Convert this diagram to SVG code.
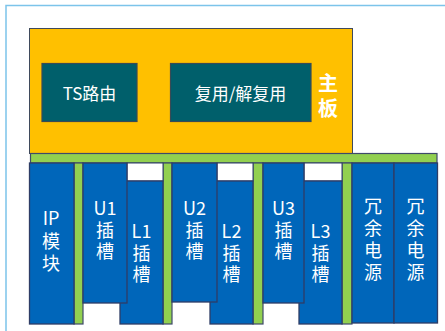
<svg xmlns="http://www.w3.org/2000/svg" width="445" height="331" viewBox="0 0 445 331">
<style>
.frame{fill:none;stroke:#7CC4EA;stroke-width:1.5}
.main{fill:#FFC000;stroke:#3F4A5C;stroke-width:1}
.teal{fill:#005F6B;stroke:#3A4A55;stroke-width:1.2}
.bus{fill:#92D050;stroke:#3F4A6A;stroke-width:1.2}
.blue{fill:#0066BA;stroke:#2E3D66;stroke-width:1.3}
.gap{fill:#FFFFFF;stroke:#2E3D66;stroke-width:1}
.t{font-family:"Noto Sans CJK SC","Noto Sans",sans-serif;fill:#FFFFFF;text-anchor:middle;dominant-baseline:central}
.s17{font-size:17px}
.s18{font-size:18px}
.b{font-weight:bold;font-size:20px}
</style>
<rect width="445" height="331" fill="#FFFFFF"/>
<path class="frame" d="M6,331 V5.5 H445"/>
<g id="mainboard">
<rect class="main" x="29.5" y="28.5" width="323" height="125"/>
<text class="t b" x="328" y="82">主</text>
<text class="t b" x="328" y="107">板</text>
</g>
<g id="ts">
<rect class="teal" x="42" y="63.5" width="95" height="58"/>
<text class="t s17" x="89.5" y="92">TS路由</text>
</g>
<g id="mux">
<rect class="teal" x="170.5" y="63.5" width="140.5" height="58"/>
<text class="t s17" x="240.5" y="92">复用/解复用</text>
</g>
<g id="connectors">
<rect class="bus" x="30.5" y="153.5" width="406.5" height="9.5"/>
<rect class="bus" x="74" y="163" width="9" height="161"/>
<rect class="bus" x="163" y="163" width="9" height="161"/>
<rect class="bus" x="253" y="163" width="10" height="161"/>
<rect class="bus" x="342" y="163" width="10" height="161"/>
</g>
<g id="ip">
<rect class="blue" x="29.5" y="163" width="44.5" height="161"/>
<text class="t s18" x="51" y="217">IP</text>
<text class="t s18" x="51" y="240">模</text>
<text class="t s18" x="51" y="262">块</text>
</g>
<g id="l1">
<rect class="gap" x="127" y="163" width="36" height="18"/>
<rect class="blue" x="120" y="181" width="43" height="143"/>
<text class="t s18" x="141.5" y="230">L1</text>
<text class="t s18" x="141.5" y="252">插</text>
<text class="t s18" x="141.5" y="273">槽</text>
</g>
<g id="u1">
<rect class="blue" x="83" y="163" width="44" height="140"/>
<text class="t s18" x="105" y="207">U1</text>
<text class="t s18" x="105" y="229">插</text>
<text class="t s18" x="105" y="250">槽</text>
</g>
<g id="l2">
<rect class="gap" x="217" y="163" width="36" height="18"/>
<rect class="blue" x="210" y="181" width="43" height="143"/>
<text class="t s18" x="231.5" y="230">L2</text>
<text class="t s18" x="231.5" y="252">插</text>
<text class="t s18" x="231.5" y="273">槽</text>
</g>
<g id="u2">
<rect class="blue" x="172" y="163" width="45" height="139"/>
<text class="t s18" x="194.5" y="207">U2</text>
<text class="t s18" x="194.5" y="229">插</text>
<text class="t s18" x="194.5" y="250">槽</text>
</g>
<g id="l3">
<rect class="gap" x="304" y="163" width="38" height="18"/>
<rect class="blue" x="299" y="181" width="43" height="143"/>
<text class="t s18" x="320.5" y="230">L3</text>
<text class="t s18" x="320.5" y="252">插</text>
<text class="t s18" x="320.5" y="273">槽</text>
</g>
<g id="u3">
<rect class="blue" x="263" y="163" width="41" height="140"/>
<text class="t s18" x="283.5" y="207">U3</text>
<text class="t s18" x="283.5" y="229">插</text>
<text class="t s18" x="283.5" y="250">槽</text>
</g>
<g id="psu1">
<rect class="blue" x="352" y="163" width="42" height="160"/>
<text class="t s18" x="373" y="205">冗</text>
<text class="t s18" x="373" y="227">余</text>
<text class="t s18" x="373" y="249">电</text>
<text class="t s18" x="373" y="271">源</text>
</g>
<g id="psu2">
<rect class="blue" x="394" y="163" width="43.5" height="160"/>
<text class="t s18" x="415.5" y="205">冗</text>
<text class="t s18" x="415.5" y="227">余</text>
<text class="t s18" x="415.5" y="249">电</text>
<text class="t s18" x="415.5" y="271">源</text>
</g>
</svg>
